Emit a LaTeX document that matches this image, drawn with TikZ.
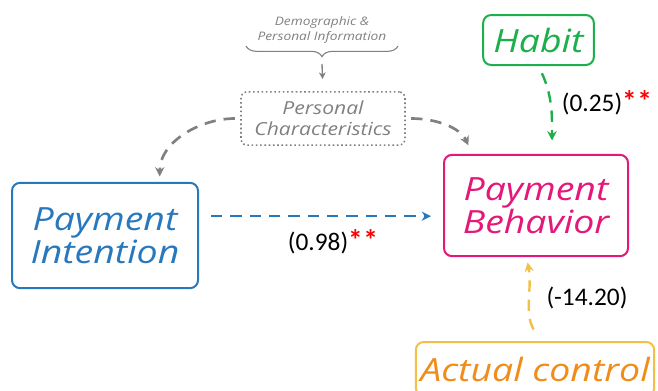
\documentclass[tikz,border=0pt]{standalone}
\usepackage{fontspec}
\newfontfamily\handfont{Open Sans}[FakeStretch=1.17]
\newfontfamily\numfont{Carlito}
\usetikzlibrary{arrows.meta, decorations.pathreplacing, calc}

\definecolor{intblue}{RGB}{40,120,190}
\definecolor{behpink}{RGB}{228,24,120}
\definecolor{habgreen}{RGB}{28,175,75}
\definecolor{ctrlorange}{RGB}{240,140,25}
\definecolor{ctrlyellow}{RGB}{242,192,70}
\definecolor{infogray}{RGB}{128,128,128}

\tikzset{
	factor/.style = {draw, line width=1.5pt, rounded corners=6pt, align=center,
		font=\handfont\itshape\fontsize{24}{25}\selectfont},
	effect/.style = {line width=1.8pt, dash pattern=on 8.5pt off 6pt, -{Stealth[length=7pt,width=7pt]}},
	coef/.style = {font=\numfont\fontsize{19}{22}\selectfont}
}
\newcommand{\sig}{\textcolor{red}{\textbf{\fontsize{22}{22}\selectfont*\kern0.5pt*}}}

\begin{document}
\begin{tikzpicture}[x=0.75pt, y=-0.75pt]
	\clip (0,0) rectangle (658,390);

	% the boxes
	\node[factor, intblue, minimum width=139.5pt, minimum height=79pt] (intention) at (105,235.5) {Payment\\Intention};
	\node[factor, behpink, minimum width=138pt, minimum height=76pt] (behavior) at (536,205.5) {Payment\\Behavior};
	\node[factor, habgreen, minimum width=83pt, minimum height=37.5pt] (habit) at (538.5,40) {Habit};
	\node[factor, draw=ctrlyellow, text=ctrlorange, minimum width=172.5pt, minimum height=40.5pt] (control) at (535,369) {Actual control};
	\node[draw=infogray, line width=1.2pt, dotted, rounded corners=4pt, align=center, text=infogray,
		font=\handfont\itshape\fontsize{13.5}{15.5}\selectfont, minimum width=123pt, minimum height=40pt] (personal) at (323,118.5) {Personal\\Characteristics};
	\node[align=center, text=infogray, font=\handfont\itshape\fontsize{8.8}{11.5}\selectfont] (info) at (322,30) {Demographic \&\\Personal Information};

	% the brace and arrows
	\coordinate (braceL) at (246,46);
	\coordinate (braceR) at (398,46);
	\draw[infogray, line width=0.8pt, decorate, decoration={brace, mirror, amplitude=8pt}] (braceL) -- (braceR);
	\coordinate (tip) at (322,64);
	\draw[infogray, line width=1pt, -{Stealth[length=5pt,width=5pt]}, shorten >=9pt] (tip) -- (personal.north);

	\draw[effect, infogray, line width=2pt, shorten <=4pt, shorten >=4pt] (personal.west) to[out=180, in=90] ([xshift=41pt]intention.north);
	\draw[effect, infogray, line width=2pt, shorten <=4pt, shorten >=7pt] (personal.east) to[out=0, in=115] ([xshift=22pt]behavior.north west);
	\coordinate (bluestart) at ([yshift=14.5pt]intention.east);
	\draw[effect, intblue, shorten <=9pt, shorten >=9pt] (bluestart) -- (bluestart -| behavior.west);
	\draw[effect, habgreen, shorten <=6pt, shorten >=10pt] (habit.south) to[out=-65, in=90] ([xshift=12pt]behavior.north);
	\draw[effect, ctrlyellow, shorten <=10pt, shorten >=4pt] ([xshift=4pt]control.north) to[out=120, in=-80] ([xshift=-7pt]behavior.south);

	% coefficients
	\node[coef] (c1) at (333,242) {(0.98)\sig};
	\node[coef] (c2) at (607,103) {(0.25)\sig};
	\node[coef] (c3) at (587,298) {(-14.20)};
\end{tikzpicture}
\end{document}
